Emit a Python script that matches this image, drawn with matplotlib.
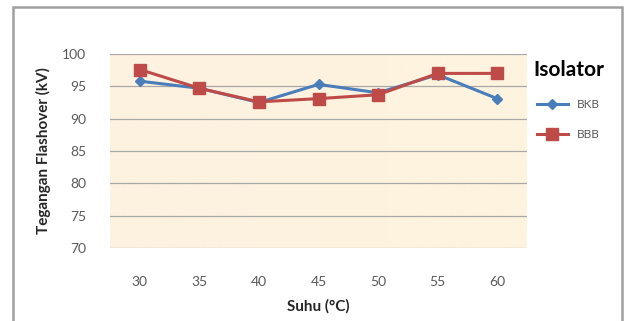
import matplotlib.pyplot as plt
import numpy as np
from matplotlib.patches import Rectangle
from matplotlib.colors import LinearSegmentedColormap

plt.rcParams['font.family'] = ['Lato', 'DejaVu Sans']

# Temperature categories and flashover voltage for each insulator
suhu = ["30", "35", "40", "45", "50", "55", "60"]
bkb = [95.8, 94.7, 92.5, 95.3, 94.0, 96.8, 93.1]
bbb = [97.6, 94.7, 92.6, 93.1, 93.7, 97.0, 97.0]
yticks = [70, 75, 80, 85, 90, 95, 100]

fig = plt.figure(figsize=(6.27, 3.21), dpi=100)
fig.patch.set_facecolor("white")

# chart border (bottom edge falls outside the picture)
fig.add_artist(Rectangle((13 / 627, -10 / 321), 609 / 627, 324 / 321,
                         transform=fig.transFigure, fill=False,
                         edgecolor="#a0a0a0", linewidth=1.8))

ax = fig.add_axes([110 / 627, 1 - 248 / 321, 417 / 627, 194 / 321])

# light cream gradient background
grad = np.linspace(0, 1, 256).reshape(1, -1)
cmap = LinearSegmentedColormap.from_list("bg", ["#fdf1e0", "#fdf4de"])
x = np.arange(len(suhu))
ax.imshow(grad, cmap=cmap, aspect="auto", extent=(-0.5, len(suhu) - 0.5, 70, 100), zorder=0)

for t in yticks:
    ax.axhline(t, color="#a8a8a8", linewidth=0.9, zorder=1)

ax.plot(x, bkb, color="#4a7ebb", linewidth=2.2, marker="D", markersize=5, label="BKB", zorder=3)
ax.plot(x, bbb, color="#be4b48", linewidth=2.2, marker="s", markersize=8, label="BBB", zorder=3)

ax.set_xlim(-0.5, len(suhu) - 0.5)
ax.set_ylim(70, 100)
ax.set_xticks(x)
ax.set_xticklabels(suhu)
ax.set_yticks(yticks)
ax.tick_params(axis="both", length=0, labelsize=10, colors="#595959")
ax.tick_params(axis="x", pad=20)
ax.tick_params(axis="y", pad=17)
for s in ax.spines.values():
    s.set_visible(False)

ax.set_xlabel("Suhu (\u00b0C)", fontsize=11, fontweight="bold", color="#262626", labelpad=8)
ax.set_ylabel("Tegangan Flashover (kV)", fontsize=11, fontweight="bold", color="#262626", labelpad=8)

leg = ax.legend(title="Isolator", loc="upper left", bbox_to_anchor=(1.0, 1.0),
                frameon=False, fontsize=8.5, handlelength=2.6, labelspacing=1.6,
                borderaxespad=0.1)
leg.get_title().set_fontsize(15)
leg.get_title().set_fontweight("bold")
for t in leg.get_texts():
    t.set_color("#595959")

fig.savefig("out.png", dpi=100)
